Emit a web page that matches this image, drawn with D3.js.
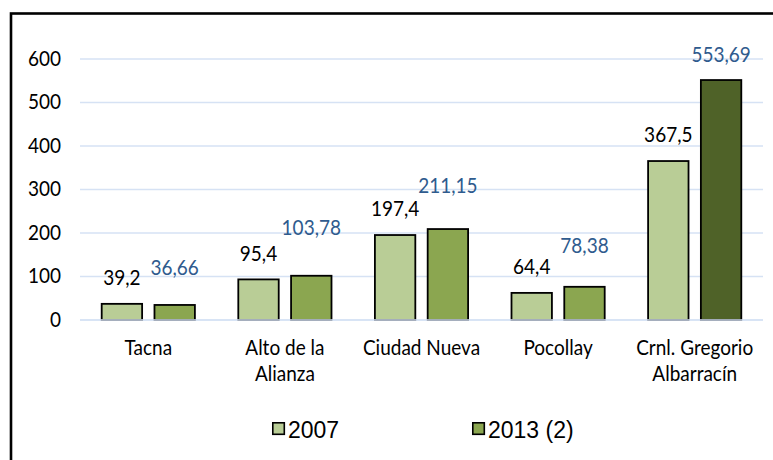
<!DOCTYPE html>
<html>
<head>
<meta charset="utf-8">
<script src="https://cdn.jsdelivr.net/npm/d3@7"></script>
<style>
  html, body { margin: 0; padding: 0; background: #fff; }
  svg { display: block; }
</style>
</head>
<body>
<svg id="chart" width="773" height="460"></svg>
<script>
// ---- data ----
const categories = ["Tacna", "Alto de la\nAlianza", "Ciudad Nueva", "Pocollay", "Crnl. Gregorio\nAlbarracín"];
const seriesNames = ["2007", "2013 (2)"];
const values2007 = [39.2, 95.4, 197.4, 64.4, 367.5];
const values2013 = [36.66, 103.78, 211.15, 78.38, 553.69];
const labels2007 = ["39,2", "95,4", "197,4", "64,4", "367,5"];
const labels2013 = ["36,66", "103,78", "211,15", "78,38", "553,69"];
const yTicks = [0, 100, 200, 300, 400, 500, 600];

// ---- styles ----
const fill2007 = "#b9cd96";
const fill2013 = ["#8ba650", "#8ba650", "#8ba650", "#8ba650", "#4f6228"];
const legendFill2013 = "#8ba650";
const label2013Color = "#2f5b8e";
const label2013Offset = [29, 40, 35, 33, 17];
const label2007Offset = 18;
const fontMain = "Lato, 'Open Sans', sans-serif";
const fontLegend = "'Liberation Sans', Arial, sans-serif";
const sy = 1.1; // vertical stretch of the text

const svg = d3.select("#chart");

// frame
svg.append("rect")
  .attr("x", 11).attr("y", 13.5)
  .attr("width", 900).attr("height", 600)
  .attr("fill", "none").attr("stroke", "#000").attr("stroke-width", 2.6);

const plotLeft = 80, plotRight = 763;
const y = d3.scaleLinear().domain([0, 600]).range([320, 59]);
const x0 = d3.scaleBand().domain(categories).range([plotLeft, plotRight]).padding(0);
const groupPad = (x0.bandwidth() - 95) / 2;
const x1 = d3.scaleBand().domain(seriesNames).range([groupPad, groupPad + 95]).paddingInner(0.2);

function stretchedText(g, xx, yy, txt, s) {
  return g.append("text")
    .attr("transform", `translate(${xx},${yy}) scale(1,${s || sy})`)
    .text(txt);
}

// gridlines
svg.append("g").selectAll("line").data(yTicks).join("line")
  .attr("x1", plotLeft).attr("x2", plotRight)
  .attr("y1", d => y(d)).attr("y2", d => y(d))
  .attr("stroke", "#d6e2f4").attr("stroke-width", 1.5);

// y tick labels
const yl = svg.append("g").attr("font-family", fontMain).attr("font-size", 19)
  .attr("text-anchor", "end").attr("fill", "#000");
yTicks.forEach(t => stretchedText(yl, 61, y(t) + 6.5, String(t)));

// bars
const groups = svg.append("g").selectAll("g").data(categories).join("g")
  .attr("transform", d => `translate(${x0(d)},0)`);

groups.each(function(c, i) {
  const g = d3.select(this);
  const vals = [values2007[i], values2013[i]];
  const fills = [fill2007, fill2013[i]];
  seriesNames.forEach((s, j) => {
    g.append("rect")
      .attr("x", x1(s) + 0.9)
      .attr("width", x1.bandwidth() - 1.8)
      .attr("y", y(vals[j]) + 0.9)
      .attr("height", y(0) - y(vals[j]) - 0.9)
      .attr("fill", fills[j])
      .attr("stroke", "#000").attr("stroke-width", 1.8);
  });
  // labels
  const lg = g.append("g").attr("font-family", fontMain).attr("font-size", 19).attr("text-anchor", "middle");
  stretchedText(lg, x1("2007") + x1.bandwidth() / 2, y(values2007[i]) - label2007Offset, labels2007[i])
    .attr("fill", "#000");
  stretchedText(lg, x1("2013 (2)") + x1.bandwidth() / 2, y(values2013[i]) - label2013Offset[i], labels2013[i])
    .attr("fill", label2013Color);
});

// x axis line
svg.append("line").attr("x1", plotLeft).attr("x2", plotRight)
  .attr("y1", y(0)).attr("y2", y(0)).attr("stroke", "#d6e2f4").attr("stroke-width", 1.5);

// category labels
const xl = svg.append("g").attr("font-family", fontMain).attr("font-size", 19)
  .attr("text-anchor", "middle").attr("fill", "#000");
categories.forEach(c => {
  const lines = c.split("\n");
  lines.forEach((ln, k) => {
    stretchedText(xl, x0(c) + x0.bandwidth() / 2, 355 + k * 26, ln);
  });
});

// legend
const legendItems = [
  { name: seriesNames[0], fill: fill2007, x: 272 },
  { name: seriesNames[1], fill: legendFill2013, x: 472 }
];
const lgd = svg.append("g").attr("font-family", fontLegend).attr("font-size", 23).attr("fill", "#000");
legendItems.forEach(it => {
  lgd.append("rect").attr("x", it.x + 0.8).attr("y", 422.8).attr("width", 11.5).attr("height", 11.5)
    .attr("fill", it.fill).attr("stroke", "#000").attr("stroke-width", 1.6);
  stretchedText(lgd, it.x + 16, 438, it.name, 1.08);
});
</script>
</body>
</html>
